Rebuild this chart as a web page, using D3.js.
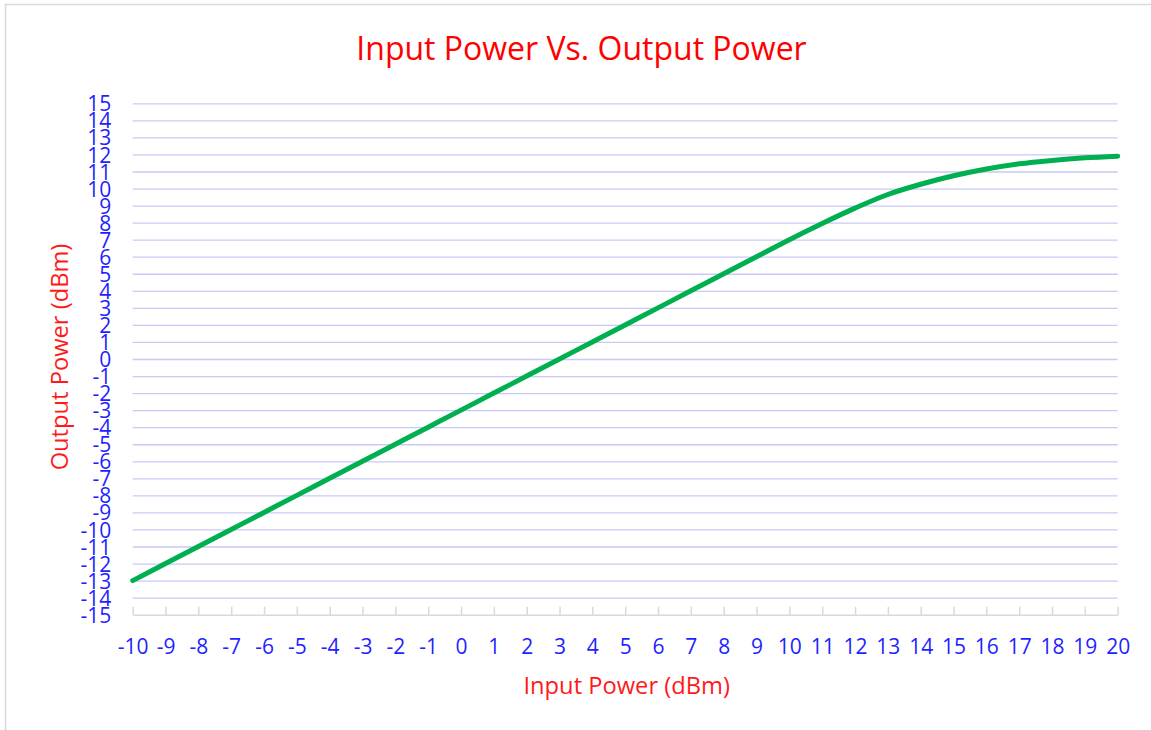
<!DOCTYPE html>
<html>
<head>
<meta charset="utf-8">
<script src="https://cdn.jsdelivr.net/npm/d3@7"></script>
<style>
  body { margin: 0; background: #fff; }
  svg { display: block; font-family: "Open Sans", sans-serif; }
</style>
</head>
<body>
<figure id="chart" style="margin:0"></figure>
<script>
// data
const inputPower = [-10, -9, -8, -7, -6, -5, -4, -3, -2, -1, 0, 1, 2, 3, 4, 5, 6, 7, 8, 9,
  10, 11, 12, 13, 14, 15, 16, 17, 18, 19, 20];
const outputPower = [-13, -12, -11, -10, -9, -8, -7, -6, -5, -4, -3, -2, -1, 0, 1, 2, 3, 4, 5, 6,
  7, 7.95, 8.85, 9.65, 10.25, 10.75, 11.15, 11.45, 11.65, 11.8, 11.9];
const xTicks = d3.range(-10, 21, 1);
const yTicks = d3.range(-15, 16, 1);

const titleText = "Input Power Vs. Output Power";
const xTitle = "Input Power (dBm)";
const yTitle = "Output Power (dBm)";

const width = 1151;
const height = 730;
const plot = { left: 132.7, right: 1117.7, top: 103.3, bottom: 614.7 };

const svg = d3.select("figure#chart")
  .append("svg")
  .attr("width", width)
  .attr("height", height);

// chart area frame (only left/top visible in the crop)
svg.append("rect")
  .attr("x", 5.5).attr("y", 4.5)
  .attr("width", 1200).attr("height", 800)
  .attr("fill", "#fff")
  .attr("stroke", "#d9d9d9")
  .attr("stroke-width", 1.5);

const x = d3.scaleLinear().domain([-10, 20]).range([plot.left, plot.right]);
const y = d3.scaleLinear().domain([-15, 15]).range([plot.bottom, plot.top]);

// plain hyphen-minus like the reference, not d3's unicode minus
const fmt = d => String(d);

// horizontal gridlines
svg.append("g")
  .attr("transform", "translate(" + plot.left + ",0)")
  .call(d3.axisLeft(y).tickValues(yTicks.filter(d => d > -15))
    .tickSize(-(plot.right - plot.left)).tickFormat(""))
  .call(g => g.select(".domain").remove())
  .selectAll("line")
  .attr("stroke", "#c9c9f7")
  .attr("stroke-width", 1.3);

// y labels
svg.append("g")
  .attr("transform", "translate(" + plot.left + ",0)")
  .call(d3.axisLeft(y).tickValues(yTicks).tickFormat(fmt).tickSize(0).tickPadding(21.5))
  .call(g => g.select(".domain").remove())
  .selectAll("text")
  .attr("dy", "0.36em")
  .attr("fill", "#1f1fff")
  .style("font-size", "21px")
  .style("font-family", "'Open Sans', sans-serif");

// x axis with ticks pointing up
const xAxis = svg.append("g")
  .attr("transform", "translate(0," + plot.bottom + ")")
  .call(d3.axisBottom(x).tickValues(xTicks).tickFormat(fmt)
    .tickSizeInner(-8).tickSizeOuter(0).tickPadding(32));
xAxis.select(".domain").attr("stroke", "#d9d9d9").attr("stroke-width", 1.5);
xAxis.selectAll("line").attr("stroke", "#d9d9d9").attr("stroke-width", 1.5);
xAxis.selectAll("text")
  .attr("dy", "0.36em")
  .attr("fill", "#1f1fff")
  .style("font-size", "21px")
  .style("font-family", "'Open Sans', sans-serif");

// the curve
const line = d3.line()
  .x((d, i) => x(inputPower[i]))
  .y(d => y(d))
  .curve(d3.curveCatmullRom.alpha(0.5));

svg.append("path")
  .datum(outputPower)
  .attr("d", line)
  .attr("fill", "none")
  .attr("stroke", "#00b050")
  .attr("stroke-width", 5)
  .attr("stroke-linecap", "round");

// titles
svg.append("text")
  .attr("x", 581.5).attr("y", 59.5)
  .attr("text-anchor", "middle")
  .attr("fill", "#ff0000")
  .style("font-size", "32px")
  .text(titleText);

svg.append("text")
  .attr("x", 626.7).attr("y", 694)
  .attr("text-anchor", "middle")
  .attr("fill", "#ff1a1a")
  .style("font-size", "23.7px")
  .text(xTitle);

svg.append("text")
  .attr("transform", "translate(67.5,357) rotate(-90)")
  .attr("text-anchor", "middle")
  .attr("fill", "#ff1a1a")
  .style("font-size", "23.7px")
  .text(yTitle);
</script>
</body>
</html>
